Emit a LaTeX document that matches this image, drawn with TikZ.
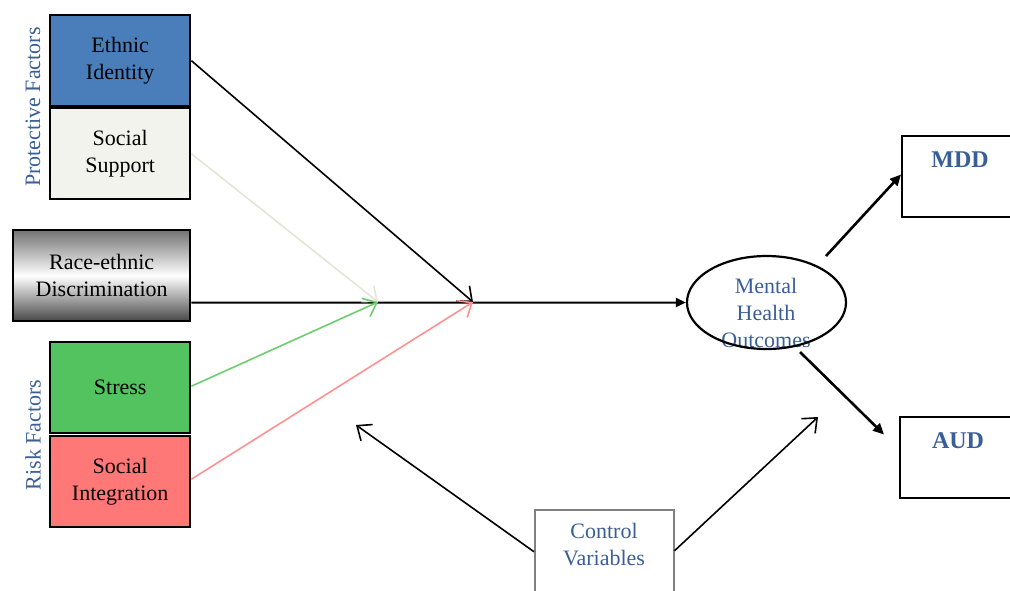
\documentclass[tikz,border=0pt]{standalone}
\usepackage{fontspec}
\setmainfont{Liberation Serif}
\usetikzlibrary{arrows.meta,shapes.geometric}
\definecolor{labelblue}{RGB}{58,94,150}
\definecolor{idblue}{RGB}{74,126,187}
\definecolor{supportfill}{RGB}{243,243,237}
\definecolor{supportline}{RGB}{228,228,216}
\definecolor{stressfill}{RGB}{82,195,94}
\definecolor{stressline}{RGB}{110,205,110}
\definecolor{integfill}{RGB}{255,120,120}
\definecolor{integline}{RGB}{255,145,145}
\tikzset{
  txt/.style={font=\fontsize{22}{27}\selectfont, align=center},
  factorbox/.style={txt, draw=black, line width=2.4pt, minimum width=140pt,
    minimum height=91pt, anchor=north west, inner sep=0pt},
  sidelabel/.style={txt, text=labelblue, rotate=90},
  barbtip/.tip={Straight Barb[length=12pt,width=20pt,line width=1.6pt]},
  linkarrow/.style={line width=1.6pt, -barbtip},
  outarrow/.style={line width=2.6pt, -{Triangle[length=11pt,width=10pt]}},
  outbox/.style={draw=black, line width=2pt, minimum width=125pt, minimum height=81pt,
    anchor=north west, inner sep=0pt},
  outtext/.style={font=\fontsize{24}{28}\selectfont\bfseries, text=labelblue},
}
\begin{document}
\begin{tikzpicture}[x=1pt,y=-1pt]
\useasboundingbox (0,0) rectangle (1010,590);
\clip (0,0) rectangle (1010,590);

% predictor boxes
\node[factorbox, fill=idblue] (eth) at (49,14) {Ethnic\\Identity};
\node[factorbox, fill=supportfill] (sup) at (49,107) {Social\\Support};
\node[factorbox, minimum width=177pt, top color=black!55, bottom color=black!72,
      middle color=white] (race) at (12,229) {Race-ethnic\\Discrimination};
\node[factorbox, fill=stressfill] (str) at (49,341) {Stress};
\node[factorbox, fill=integfill] (integ) at (49,435) {Social\\Integration};

% group labels
\node[sidelabel] (prot) at (33,107) {Protective Factors};
\node[sidelabel] (risk) at (33,435) {Risk Factors};

% outcome nodes
\node[txt, text=labelblue] (mhotext) at (766,313) {Mental\\Health\\Outcomes};
\node[draw=black, line width=2.2pt, ellipse, minimum width=159pt, minimum height=93pt,
      inner sep=0pt] (mho) at (766.5,302.5) {};

\node[outbox] (mdd) at (901,135) {};
\node[outtext] (mddtext) at (960,160) {MDD};
\node[outbox] (aud) at (899,416) {};
\node[outtext] (audtext) at (958,441) {AUD};

\node[draw=black!50, line width=1.5pt, minimum width=139pt, minimum height=100pt,
      anchor=north west, inner sep=0pt] (ctrl) at (534,509) {};
\node[txt, text=labelblue] (ctrltext) at (604,545) {Control\\Variables};

% junction points on the main path
\coordinate (j1) at (378,302);
\coordinate (j2) at (473,302);
\coordinate (cl) at (356,425);
\coordinate (cr) at (818,417);
\coordinate (mtop) at (826,256);
\coordinate (mbot) at (800,352);

% connectors
\draw[line width=2pt, -{Triangle[length=10pt,width=9pt]}]
  ([yshift=-27pt]race.east) -- (mho.west);
\draw[linkarrow, black] (eth.east) -- (j2);
\draw[linkarrow, supportline] (sup.east) -- (j1);
\draw[linkarrow, stressline] ([yshift=1.5pt]str.east) -- (j1);
\draw[linkarrow, integline] ([yshift=2.5pt]integ.east) -- (j2);

\draw[outarrow] (mtop) -- ([yshift=2pt]mdd.west);
\draw[outarrow] (mbot) -- ([xshift=-15pt,yshift=23pt]aud.west);

\draw[linkarrow, black] ([yshift=8pt]ctrl.west) -- (cl);
\draw[linkarrow, black] ([yshift=9pt]ctrl.east) -- (cr);
\end{tikzpicture}
\end{document}
